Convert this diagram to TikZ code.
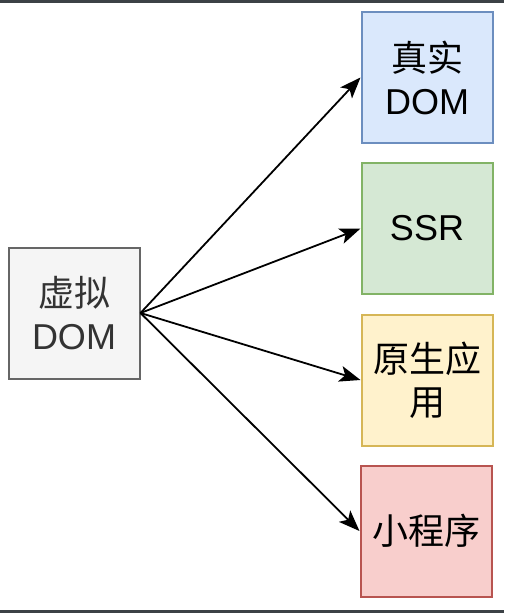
\documentclass[tikz,border=0pt]{standalone}
\usepackage{fontspec}
\setmainfont{Liberation Sans}
\newfontfamily\cjk{Noto Sans CJK SC}
\usepackage{tikz}
\usetikzlibrary{arrows.meta,positioning}
\usepackage{xcolor}

\definecolor{grayfill}{HTML}{F5F5F5}
\definecolor{graydraw}{HTML}{666666}
\definecolor{graytext}{HTML}{333333}
\definecolor{bluefill}{HTML}{DAE8FC}
\definecolor{bluedraw}{HTML}{6C8EBF}
\definecolor{greenfill}{HTML}{D5E8D4}
\definecolor{greendraw}{HTML}{82B366}
\definecolor{yellowfill}{HTML}{FFF2CC}
\definecolor{yellowdraw}{HTML}{D6B656}
\definecolor{redfill}{HTML}{F8CECC}
\definecolor{reddraw}{HTML}{B85450}
\definecolor{edgebar}{HTML}{3C4146}

\tikzset{
  box/.style={draw, line width=2pt, minimum width=131pt, minimum height=131pt,
    inner sep=0pt, align=center, font=\fontsize{36}{43}\selectfont},
}

\begin{document}
\begin{tikzpicture}[x=1pt, y=-1pt, >={Stealth[length=21pt,width=16pt,inset=5pt]}]
  \useasboundingbox (0,0) rectangle (504,613);
  \fill[white] (0,0) rectangle (504,613);
  \fill[edgebar] (0,0) rectangle (504,2.5);
  \fill[edgebar] (0,610) rectangle (504,613);

  % Define coordinates for nodes
  \node[box, fill=grayfill, draw=graydraw, text=graytext] (vdom) at (74, 313) {{\cjk 虚拟}\\DOM};
  \node[box, fill=bluefill, draw=bluedraw] (real) at (427, 77.5) {{\cjk 真实}\\DOM};
  \node[box, fill=greenfill, draw=greendraw] (ssr) at (427, 228.5) {SSR};
  \node[box, fill=yellowfill, draw=yellowdraw] (native) at (427, 380) {{\cjk 原生应}\\{\cjk 用}};
  \node[box, fill=redfill, draw=reddraw] (mini) at (426, 531) {\cjk 小程序};

  % Draw arrows between nodes
  \draw[->, line width=1.8pt] (vdom.east) to (real.west);
  \draw[->, line width=1.8pt] (vdom.east) to (ssr.west);
  \draw[->, line width=1.8pt] (vdom.east) to (native.west);
  \draw[->, line width=1.8pt] (vdom.east) to (mini.west);
\end{tikzpicture}
\end{document}
